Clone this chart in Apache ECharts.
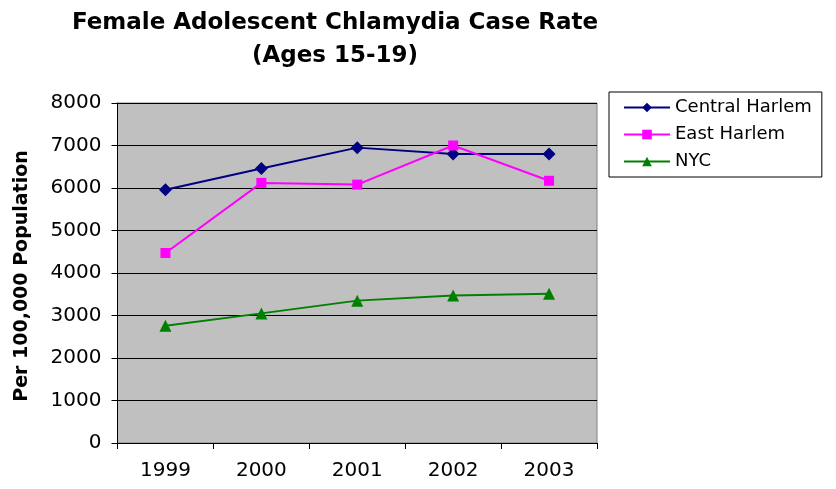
<!DOCTYPE html>
<html><head><meta charset="utf-8">
<script src="https://cdn.jsdelivr.net/npm/echarts@6/dist/echarts.min.js"></script>
<style>html,body{margin:0;padding:0;background:#fff}#c{width:836px;height:489px}</style>
</head><body><div id="c"></div>
<script>
const years = ['1999','2000','2001','2002','2003'];
const centralHarlem = [5960, 6460, 6950, 6800, 6800];
const eastHarlem = [4470, 6120, 6080, 7000, 6170];
const nyc = [2760, 3050, 3350, 3470, 3510];
const yTicks = [0, 1000, 2000, 3000, 4000, 5000, 6000, 7000, 8000];
const yTitle = 'Per 100,000 Population';

const F = '"DejaVu Sans", sans-serif';
const chart = echarts.init(document.getElementById('c'), null, {renderer: 'canvas'});
chart.setOption({
  animation: false,
  backgroundColor: '#fff',
  title: {
    text: 'Female Adolescent Chlamydia Case Rate\n(Ages 15-19)',
    left: 335, top: 7, padding: 0, textAlign: 'center',
    textStyle: {fontFamily: F, fontSize: 23, fontWeight: 'bold', color: '#000', lineHeight: 33}
  },
  legend: {
    orient: 'vertical', left: 609, top: 92,
    padding: [6, 10, 6, 14],
    itemGap: 8, itemWidth: 46, itemHeight: 12,
    borderColor: '#000', borderWidth: 1, borderRadius: 0,
    textStyle: {fontFamily: F, fontSize: 18, color: '#000', lineHeight: 19},
    data: ['Central Harlem', 'East Harlem', 'NYC']
  },
  graphic: [{
    type: 'text', x: 22, y: 276, rotation: Math.PI / 2,
    style: {text: yTitle, fontFamily: F, fontSize: 19, fontWeight: 'bold', fill: '#000', align: 'center', verticalAlign: 'middle'}
  }],
  grid: {left: 117.5, right: 239, top: 103, bottom: 46, show: true, backgroundColor: '#C0C0C0', borderColor: '#808080', borderWidth: 1},
  xAxis: {
    type: 'category', data: years, boundaryGap: true,
    axisLine: {lineStyle: {color: '#000', width: 1}},
    axisTick: {show: true, length: 6, lineStyle: {color: '#000'}},
    axisLabel: {fontFamily: F, fontSize: 20, color: '#000', margin: 18}
  },
  yAxis: {
    type: 'value', min: yTicks[0], max: yTicks[yTicks.length-1], interval: 1000,
    axisLine: {show: true, lineStyle: {color: '#000', width: 1}},
    axisTick: {show: true, length: 6, inside: false, lineStyle: {color: '#000'}},
    axisLabel: {fontFamily: F, fontSize: 20, color: '#000', margin: 16, formatter: v => String(v)},
    splitLine: {show: true, lineStyle: {color: '#000', width: 1}}
  },
  series: [
    {name: 'Central Harlem', type: 'line', data: centralHarlem, symbol: 'diamond', symbolSize: 13,
     lineStyle: {color: '#000080', width: 2}, itemStyle: {color: '#000080'}},
    {name: 'East Harlem', type: 'line', data: eastHarlem, symbol: 'rect', symbolSize: 10,
     lineStyle: {color: '#FF00FF', width: 2}, itemStyle: {color: '#FF00FF'}},
    {name: 'NYC', type: 'line', data: nyc, symbol: 'triangle', symbolSize: 12,
     lineStyle: {color: '#008000', width: 2}, itemStyle: {color: '#008000'}}
  ]
});
</script></body></html>
